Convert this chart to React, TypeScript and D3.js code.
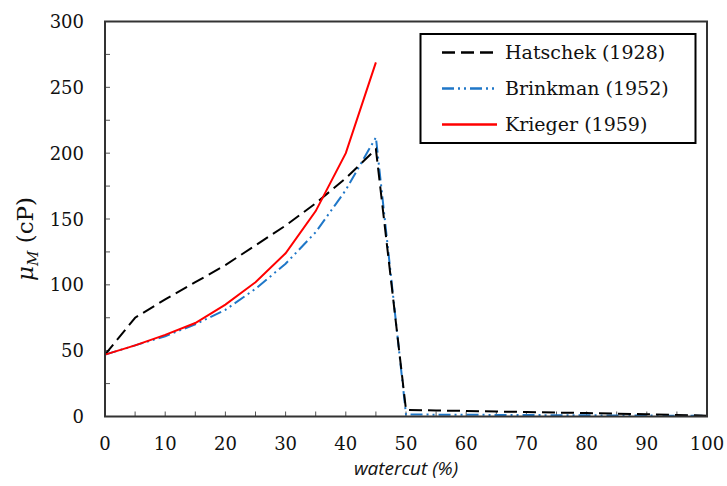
import React from "react";
import * as d3 from "d3";

const watercut = [0, 5, 10, 15, 20, 25, 30, 35, 40, 45, 50, 55, 60, 65, 70, 75, 80, 85, 90, 95, 100];
const hatschek = [47, 75, 89, 102, 115, 130, 145, 162, 181, 203, 5, 4.6, 4.2, 3.8, 3.4, 3.0, 2.6, 2.2, 1.7, 1.2, 0.6];
const brinkman = [47, 54, 61, 70, 81, 97, 116, 140, 172, 212, 1.5, 1.4, 1.3, 1.2, 1.1, 1.0, 0.9, 0.8, 0.7, 0.6, 0.5];
const kriegerX = [0, 5, 10, 15, 20, 25, 30, 35, 40, 45];
const krieger = [47, 54, 62, 71, 85, 102, 124, 156, 200, 269];

const xTicks = [0, 10, 20, 30, 40, 50, 60, 70, 80, 90, 100];
const yTicks = [0, 50, 100, 150, 200, 250, 300];
const xMinor = [5, 15, 25, 35, 45, 55, 65, 75, 85, 95];
const yMinor = [25, 75, 125, 175, 225, 275];

const seriesNames = ["Hatschek (1928)", "Brinkman (1952)", "Krieger (1959)"];

export default function App() {
  const W = 727, H = 486;
  const left = 105, right = 707, top = 21.5, bottom = 416.5;
  const x = d3.scaleLinear().domain([0, 100]).range([left, right]);
  const y = d3.scaleLinear().domain([0, 300]).range([bottom, top]);
  const line = d3.line<[number, number]>().x(d => x(d[0])).y(d => y(d[1]));
  const hPts = watercut.map((w, i) => [w, hatschek[i]] as [number, number]);
  const bPts = watercut.map((w, i) => [w, brinkman[i]] as [number, number]);
  const kPts = kriegerX.map((w, i) => [w, krieger[i]] as [number, number]);
  const serif = "'DejaVu Serif', 'Liberation Serif', serif";
  const styles = [
    { color: "#000", dash: "13,6", width: 2 },
    { color: "#1f77c8", dash: "12,4,2,4,2,4", width: 2 },
    { color: "#ff0000", dash: "none", width: 2 },
  ];
  const legX = 420.5, legY = 34, legW = 275, legH = 109;
  return (
    <svg width={W} height={H} style={{ position: "absolute", left: 0, top: 0 }}>
      <rect x={0} y={0} width={W} height={H} fill="#fff" />
      {xTicks.concat(xMinor).map(t => (
        <line key={"xt" + t} x1={x(t)} x2={x(t)} y1={bottom} y2={bottom - 5} stroke="#555" strokeWidth={1} />
      ))}
      {yTicks.concat(yMinor).map(t => (
        <line key={"yt" + t} x1={left} x2={left + 5} y1={y(t)} y2={y(t)} stroke="#555" strokeWidth={1} />
      ))}
      <path d={line(bPts) || ""} fill="none" stroke={styles[1].color} strokeWidth={styles[1].width} strokeDasharray={styles[1].dash} />
      <path d={line(hPts) || ""} fill="none" stroke={styles[0].color} strokeWidth={styles[0].width} strokeDasharray={styles[0].dash} />
      <path d={line(kPts) || ""} fill="none" stroke={styles[2].color} strokeWidth={styles[2].width} />
      <rect x={left} y={top} width={right - left} height={bottom - top} fill="none" stroke="#333" strokeWidth={2} />
      {xTicks.map(t => (
        <text key={"xl" + t} x={x(t)} y={bottom + 33} textAnchor="middle" fontFamily={serif} fontSize={18} fill="#111">{t}</text>
      ))}
      {yTicks.map(t => (
        <text key={"yl" + t} x={left - 21} y={y(t) + 6.5} textAnchor="end" fontFamily={serif} fontSize={18} fill="#111">{t}</text>
      ))}
      <text x={x(50)} y={475} textAnchor="middle" fontFamily="'Open Sans', 'Liberation Sans', sans-serif" fontStyle="italic" fontSize={19} fill="#111">watercut (%)</text>
      <text transform={`translate(33, 239) rotate(-90)`} textAnchor="middle" fontFamily={serif} fontSize={23} fill="#111">
        <tspan fontStyle="italic">μ</tspan>
        <tspan fontStyle="italic" fontSize={15} dy={5}>M</tspan>
        <tspan dy={-5}> (cP)</tspan>
      </text>
      <rect x={legX} y={legY} width={legW} height={legH} fill="#fff" stroke="#000" strokeWidth={2} />
      {seriesNames.map((n, i) => {
        const ly = 52.5 + i * 36;
        return (
          <g key={n}>
            <line x1={442} x2={497} y1={ly} y2={ly} stroke={styles[i].color} strokeWidth={2.5} strokeDasharray={styles[i].dash} />
            <text x={505} y={ly + 6.5} fontFamily={serif} fontSize={19} fill="#111">{n}</text>
          </g>
        );
      })}
    </svg>
  );
}
